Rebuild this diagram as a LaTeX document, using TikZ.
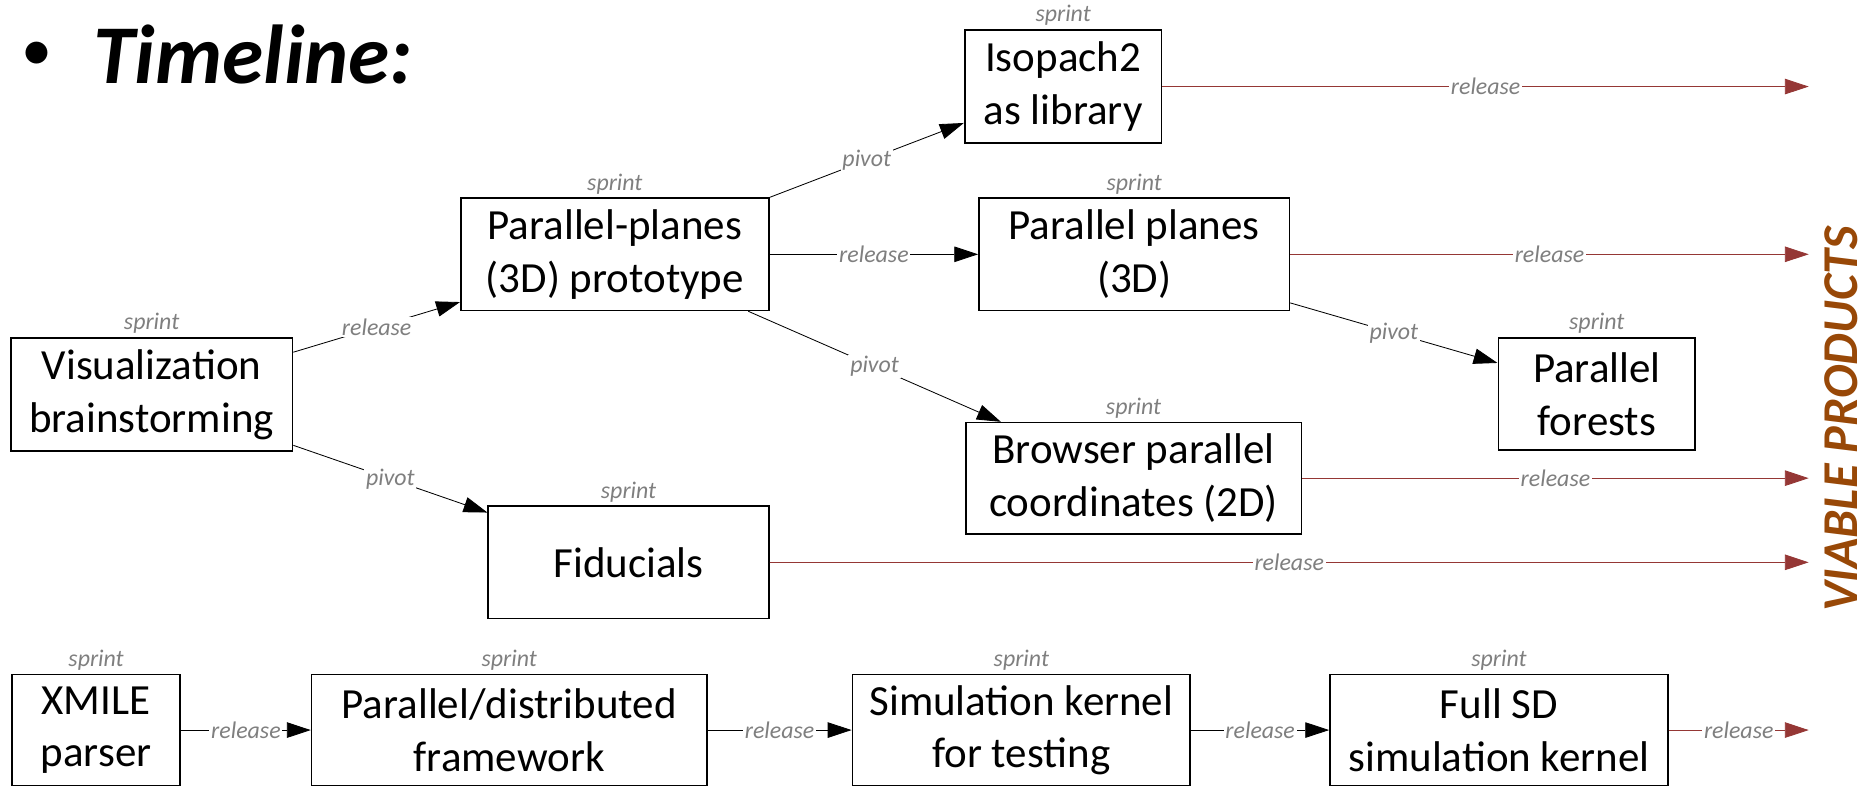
\documentclass[tikz,border=0pt]{standalone}
\usepackage{fontspec}
\setmainfont{Carlito}
\usetikzlibrary{arrows.meta,calc}
\definecolor{relred}{HTML}{953735}
\definecolor{lblgray}{HTML}{7F7F7F}
\definecolor{viable}{HTML}{984807}
\begin{document}
\begin{tikzpicture}[x=1pt,y=-1pt,
  box/.style={draw,line width=1.4pt,inner sep=0pt,align=center,font=\fontsize{36}{44}\selectfont},
  sprintlbl/.style={anchor=base,text=lblgray,font=\fontsize{20}{24}\selectfont\itshape,inner sep=0pt},
  conn/.style={line width=0.7pt,-{Triangle[length=20pt,width=13pt]}},
  relconn/.style={conn,draw=relred,fill=relred},
  lbl/.style={fill=white,text=lblgray,font=\fontsize{20}{24}\selectfont\itshape,inner sep=1.5pt,pos=0.5}]
\useasboundingbox (0,0) rectangle (1568,659);

% title
\node[anchor=base,inner sep=0pt,font=\fontsize{52}{60}\selectfont] (bul) at (31,59) {•};
\node[anchor=base west,inner sep=0pt,font=\fontsize{70}{84}\selectfont\bfseries\itshape] (title) at (78,70) {Timeline:};

% boxes
\node[box,minimum width=165pt,minimum height=95pt] (iso) at (890.5,72.5) {Isopach2\\as library};
\node[box,minimum width=258pt,minimum height=94pt] (ppp) at (515,213) {Parallel-planes\\(3D) prototype};
\node[box,minimum width=260pt,minimum height=94pt] (pp) at (950,213) {Parallel planes\\(3D)};
\node[box,minimum width=236pt,minimum height=95pt] (vis) at (127,330.5) {Visualization\\brainstorming};
\node[box,minimum width=165pt,minimum height=94pt] (pf) at (1337.5,330) {Parallel\\forests};
\node[box,minimum width=281pt,minimum height=93pt] (br) at (949.5,400.5) {Browser parallel\\coordinates (2D)};
\node[box,minimum width=235pt,minimum height=94pt] (fid) at (526.5,471) {Fiducials};
\node[box,minimum width=141pt,minimum height=93pt] (xm) at (80.5,611.5) {XMILE\\parser};
\node[box,minimum width=331pt,minimum height=93pt] (pdf) at (426.5,611.5) {Parallel/distributed\\framework};
\node[box,minimum width=283pt,minimum height=93pt] (sim) at (855.5,611.5) {Simulation kernel\\for testing};
\node[box,minimum width=283pt,minimum height=93pt] (fsd) at (1255.5,611.5) {Full SD\\simulation kernel};

% sprint labels
\foreach \b in {iso,ppp,pp,vis,pf,br,fid,xm,pdf,sim,fsd}
  \node[sprintlbl] (s\b) at ([yshift=6pt]\b.north) {sprint};

% end points of the release arrows
\coordinate (eiso) at (1515,72.5);
\coordinate (epp) at (1515,213);
\coordinate (ebr) at (1515,400.5);
\coordinate (efid) at (1515,471);
\coordinate (efsd) at (1515,611.5);

% black connectors
\draw[conn] ([yshift=35.5pt]vis.east) -- node[lbl]{release} ([yshift=-40pt]ppp.west);
\draw[conn] ([yshift=-42.5pt]vis.east) -- node[lbl]{pivot} ([yshift=-6pt]fid.north west);
\draw[conn] (ppp.north east) -- node[lbl]{pivot} ([yshift=-30.5pt]iso.west);
\draw[conn] (ppp.east) -- node[lbl]{release} (pp.west);
\draw[conn] ([xshift=-18pt]ppp.south east) -- node[lbl]{pivot} ([xshift=30pt]br.north west);
\draw[conn] ([yshift=7pt]pp.south east) -- node[lbl]{pivot} ([yshift=26pt]pf.west);
\draw[conn] (xm.east) -- node[lbl]{release} (pdf.west);
\draw[conn] (pdf.east) -- node[lbl]{release} (sim.west);
\draw[conn] (sim.east) -- node[lbl]{release} (fsd.west);

% release arrows to viable products
\draw[relconn] (iso.east) -- node[lbl]{release} (eiso);
\draw[relconn] (pp.east) -- node[lbl]{release} (epp);
\draw[relconn] (br.east) -- node[lbl]{release} (ebr);
\draw[relconn] (fid.east) -- node[lbl]{release} (efid);
\draw[relconn] (fsd.east) -- node[lbl]{release} (efsd);

\node[rotate=90,anchor=base,inner sep=0pt,text=viable,font=\fontsize{42}{50}\selectfont\bfseries\itshape] (vp) at (1556,351) {VIABLE PRODUCTS};
\end{tikzpicture}
\end{document}
